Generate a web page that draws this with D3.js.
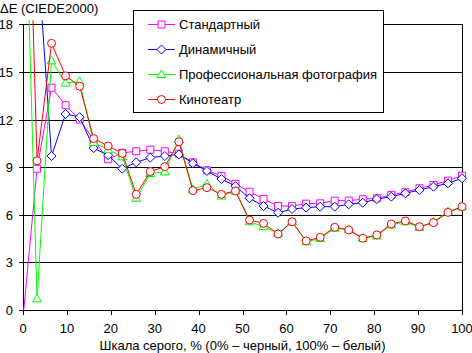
<!DOCTYPE html>
<html>
<head>
<meta charset="utf-8">
<script src="https://cdn.jsdelivr.net/npm/d3@7"></script>
<style>
  body { margin: 0; background: #fff; }
  text { font-family: Arial, "Liberation Sans", sans-serif; fill: #000; }
</style>
</head>
<body>
<svg id="chart" width="472" height="353"></svg>
<script>
// gray levels, % (32 steps)
const grayLevels = [0, 3.2, 6.5, 9.7, 12.9, 16.1, 19.4, 22.6, 25.8, 29.0, 32.3, 35.5, 38.7, 41.9, 45.2, 48.4,
  51.6, 54.8, 58.1, 61.3, 64.5, 67.7, 71.0, 74.2, 77.4, 80.6, 83.9, 87.1, 90.3, 93.5, 96.8, 100];

const standard = [-0.5, 8.9, 14.0, 12.9, 12.0, 10.7, 9.5, 9.9, 10.0, 10.1, 10.0, 9.85, 9.3, 8.8, 8.45, 7.95,
  7.45, 7.0, 6.55, 6.55, 6.7, 6.72, 6.89, 6.89, 6.98, 7.04, 7.25, 7.42, 7.67, 7.88, 8.15, 8.46];
const dynamic = [30, 22.9, 9.7, 12.35, 12.15, 10.2, 9.75, 8.9, 9.3, 9.6, 9.7, 9.8, 9.25, 8.76, 8.25, 7.8,
  7.04, 6.55, 6.13, 6.36, 6.45, 6.51, 6.51, 6.66, 6.76, 6.99, 7.14, 7.35, 7.56, 7.77, 7.98, 8.3];
const photo = [32, 0.7, 15.7, 14.3, 14.4, 10.55, 10.1, 9.65, 7.04, 8.6, 8.7, 10.75, 7.6, 7.94, 7.18, 7.5,
  5.56, 5.25, 4.83, 5.56, 4.3, 4.5, 5.15, 5.08, 4.52, 4.66, 5.36, 5.56, 5.21, 5.56, 6.2, 6.5];
const cinema = [40, 9.4, 16.8, 14.75, 14.1, 10.8, 10.33, 9.87, 7.29, 8.72, 9.03, 10.6, 7.52, 7.71, 7.29, 7.5,
  5.67, 5.46, 4.79, 5.56, 4.35, 4.58, 5.21, 5.04, 4.52, 4.73, 5.42, 5.61, 5.25, 5.5, 6.15, 6.51];

const seriesNames = ["Стандартный", "Динамичный", "Профессиональная фотография", "Кинотеатр"];
const xTicks = [0, 10, 20, 30, 40, 50, 60, 70, 80, 90, 100];
const yTicks = [0, 3, 6, 9, 12, 15, 18];

const series = [
  {name: seriesNames[0], values: standard, color: "#ff00ff", shape: "square"},
  {name: seriesNames[1], values: dynamic, color: "#0000ff", shape: "diamond"},
  {name: seriesNames[2], values: photo, color: "#00ff00", shape: "triangle"},
  {name: seriesNames[3], values: cinema, color: "#ff0000", shape: "circle"}
];

const svg = d3.select("#chart");
const margins = {left: 23, right: 10, top: 24.3, bottom: 43};
const W = 472, H = 353;

const x = d3.scaleLinear().domain([0, 100]).range([margins.left, W - margins.right]);
const y = d3.scaleLinear().domain([0, 18]).range([H - margins.bottom, margins.top]);

function markerPath(shape) {
  if (shape === "square") return "M-3.5,-3.5H3.5V3.5H-3.5Z";
  if (shape === "diamond") return "M0,-4.5L4.5,0L0,4.5L-4.5,0Z";
  if (shape === "triangle") return "M0,-4.5L4.5,3L-4.5,3Z";
  return d3.symbol(d3.symbolCircle, 50)();
}

svg.append("defs").append("clipPath").attr("id", "plotclip")
  .append("rect")
  .attr("x", x(0) - 6).attr("y", y(18) - 4)
  .attr("width", x(100) - x(0) + 12).attr("height", y(0) - y(18) + 4.5);

// grid lines
svg.append("g")
  .selectAll("line")
  .data(yTicks)
  .enter().append("line")
    .attr("x1", x(0) - 4).attr("x2", x(100))
    .attr("y1", d => Math.round(y(d)) + 0.5).attr("y2", d => Math.round(y(d)) + 0.5)
    .attr("stroke", "#000");

// left / right axis lines
svg.append("line")
  .attr("x1", x(0) + 0.5).attr("x2", x(0) + 0.5)
  .attr("y1", y(18)).attr("y2", y(0) + 5)
  .attr("stroke", "#000");
svg.append("line")
  .attr("x1", Math.round(x(100)) + 0.5).attr("x2", Math.round(x(100)) + 0.5)
  .attr("y1", Math.round(y(18))).attr("y2", y(0) + 5)
  .attr("stroke", "#000");

// x ticks
const xAxis = svg.append("g");
xAxis.selectAll("line")
  .data(xTicks)
  .enter().append("line")
    .attr("x1", d => Math.round(x(d)) + 0.5).attr("x2", d => Math.round(x(d)) + 0.5)
    .attr("y1", y(0)).attr("y2", y(0) + 5)
    .attr("stroke", "#000");
xAxis.selectAll("text")
  .data(xTicks)
  .enter().append("text")
    .attr("x", d => x(d))
    .attr("y", y(0) + 23)
    .attr("text-anchor", "middle")
    .attr("font-size", 13)
    .text(d => d);

// y tick labels
svg.append("g")
  .selectAll("text")
  .data(yTicks)
  .enter().append("text")
    .attr("x", 13)
    .attr("y", d => y(d) + 5)
    .attr("text-anchor", "end")
    .attr("font-size", 13)
    .text(d => d);

svg.append("text")
  .attr("x", 0).attr("y", 13)
  .attr("font-size", 13)
  .text("ΔE (CIEDE2000)");

svg.append("text")
  .attr("x", (x(0) + x(100)) / 2).attr("y", 350)
  .attr("text-anchor", "middle")
  .attr("font-size", 13)
  .text("Шкала серого, % (0% – черный, 100% – белый)");

// series
const line = d3.line().x((d, i) => x(grayLevels[i])).y(d => y(d));
const plot = svg.append("g").attr("clip-path", "url(#plotclip)");

series.forEach(s => {
  const g = plot.append("g");
  g.append("path")
    .attr("d", line(s.values))
    .attr("fill", "none")
    .attr("stroke", s.color)
    .attr("stroke-width", 1);
  g.selectAll("path.m")
    .data(s.values)
    .enter().append("path")
      .attr("class", "m")
      .attr("transform", (d, i) => "translate(" + x(grayLevels[i]) + "," + y(d) + ")")
      .attr("d", markerPath(s.shape))
      .attr("fill", "#fff")
      .attr("stroke", s.color);
});

// legend
const legend = svg.append("g");
legend.append("rect")
  .attr("x", 133.5).attr("y", 10.5)
  .attr("width", 250).attr("height", 102)
  .attr("fill", "#fff").attr("stroke", "#000");

const rowY = d3.scalePoint().domain(seriesNames).range([24, 99]);
const item = legend.selectAll("g.item")
  .data(series)
  .enter().append("g")
    .attr("class", "item")
    .attr("transform", d => "translate(0," + rowY(d.name) + ")");
item.append("line")
  .attr("x1", 148).attr("x2", 175).attr("y1", 0.5).attr("y2", 0.5)
  .attr("stroke", d => d.color);
item.append("path")
  .attr("transform", "translate(161.5,0.5)")
  .attr("d", d => markerPath(d.shape))
  .attr("fill", "#fff")
  .attr("stroke", d => d.color);
item.append("text")
  .attr("x", 179).attr("y", 5)
  .attr("font-size", 13)
  .text(d => d.name);
</script>
</body>
</html>
